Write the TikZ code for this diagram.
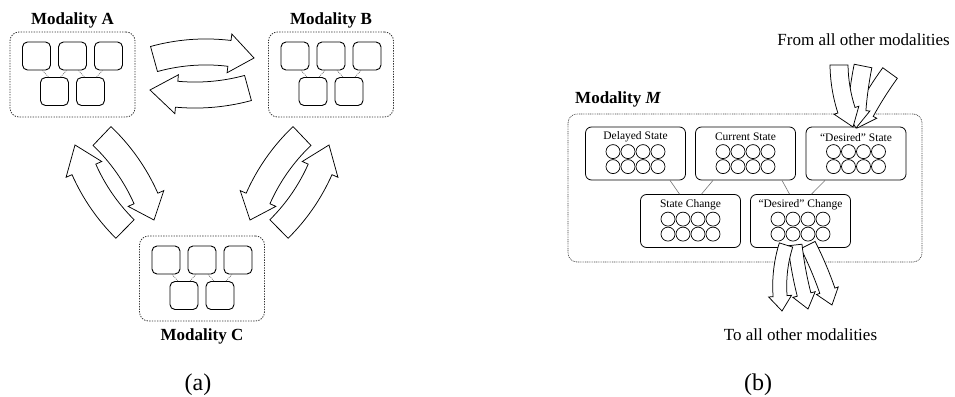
\documentclass[tikz,border=0pt]{standalone}
\usepackage{fontspec}
\setmainfont{Liberation Serif}
\usetikzlibrary{calc}
\tikzset{
  bigarr/.style={draw=black, fill=white, line width=0.75pt, line join=miter},
  modbox/.style={draw=black!80, line width=0.8pt, dash pattern=on 1.3pt off 1.3pt, rounded corners=9pt, minimum width=125pt, minimum height=85pt, inner sep=0pt},
  sq/.style={draw=black, line width=0.9pt, rounded corners=5pt, minimum size=28pt, inner sep=0pt},
  sqlink/.style={draw=black!60, line width=0.6pt, dash pattern=on 1pt off 1pt},
  mbox/.style={draw=black!75, line width=0.7pt, dash pattern=on 0.9pt off 0.9pt, rounded corners=9pt, inner sep=0pt},
  stbox/.style={draw=black, line width=0.8pt, rounded corners=6pt, minimum width=100pt, minimum height=53pt, inner sep=0pt},
  cellc/.style={draw=black, line width=0.7pt},
  stlink/.style={draw=black!55, line width=0.6pt},
  sttitle/.style={font=\fontsize{11.5}{13}\selectfont, inner sep=0pt},
  lbl/.style={font=\fontsize{17}{20}\selectfont, inner sep=0pt},
  lblb/.style={font=\fontsize{17}{20}\selectfont\bfseries, inner sep=0pt},
  capt/.style={font=\fontsize{24}{28}\selectfont, inner sep=0pt}
}
% curved block arrow: tail (#1,#2), tip (#3,#4), half turn angle #5 (signed), half width #6, head half width #7, head length #8
\newcommand{\carrow}[8]{%
  \pgfmathsetmacro{\arDx}{(#3)-(#1)}%
  \pgfmathsetmacro{\arDy}{(#4)-(#2)}%
  \pgfmathsetmacro{\arL}{veclen(\arDx,\arDy)}%
  \pgfmathsetmacro{\arS}{2*sin(#5)}%
  \pgfmathsetmacro{\arR}{(\arL)/(\arS)}%
  \pgfmathsetmacro{\arRa}{abs(\arR)}%
  \pgfmathsetmacro{\arK}{(\arR)*cos(#5)/(\arL)}%
  \pgfmathsetmacro{\arCx}{((#1)+(#3))/2 - (\arDy)*(\arK)}%
  \pgfmathsetmacro{\arCy}{((#2)+(#4))/2 + (\arDx)*(\arK)}%
  \pgfmathsetmacro{\arT}{atan2((#2)-(\arCy),(#1)-(\arCx))}%
  \pgfmathsetmacro{\arP}{(\arT)+2*(#5)}%
  \pgfmathsetmacro{\arHd}{((#8)/(\arR))*57.29578}%
  \pgfmathsetmacro{\arB}{(\arP)-(\arHd)}%
  \pgfmathsetmacro{\arO}{(\arRa)+(#6)}%
  \pgfmathsetmacro{\arI}{(\arRa)-(#6)}%
  \pgfmathsetmacro{\arHO}{(\arRa)+(#7)}%
  \pgfmathsetmacro{\arHI}{(\arRa)-(#7)}%
  \draw[bigarr, shift={(\arCx,\arCy)}] (\arT:\arO) arc[start angle=\arT, end angle=\arB, radius=\arO]
    -- (\arB:\arHO) -- (\arP:\arRa) -- (\arB:\arHI) -- (\arB:\arI)
    arc[start angle=\arB, end angle=\arT, radius=\arI] -- cycle;
}
% modality unit of panel (a)
\newcommand{\modunit}[3]{%
  \node[modbox] (#1) at (#2,#3) {};
  \node[sq] (#1t1) at ($(#1)+(-36,18.5)$) {};
  \node[sq] (#1t2) at ($(#1)+(0,18.5)$) {};
  \node[sq] (#1t3) at ($(#1)+(36,18.5)$) {};
  \node[sq] (#1b1) at ($(#1)+(-18,-17)$) {};
  \node[sq] (#1b2) at ($(#1)+(18,-17)$) {};
  \draw[sqlink] ([xshift=-6pt]#1b1.north) -- ([xshift=6pt]#1t1.south);
  \draw[sqlink] ([xshift=6pt]#1b1.north) -- ([xshift=-6pt]#1t2.south);
  \draw[sqlink] ([xshift=-6pt]#1b2.north) -- ([xshift=6pt]#1t2.south);
  \draw[sqlink] ([xshift=6pt]#1b2.north) -- ([xshift=-6pt]#1t3.south);
}
% state unit of panel (b)
\newcommand{\stunit}[4]{%
  \node[stbox] (#1) at (#2,#3) {};
  \node[sttitle] (#1title) at ($(#1.north)+(0,-10.5)$) {#4};
  \foreach \cx in {-22.5,-7.5,7.5,22.5}{
    \draw[cellc] ($(#1.north)+(\cx,-25)$) circle[radius=7];
    \draw[cellc] ($(#1.north)+(\cx,-40)$) circle[radius=7];
  }
}
\begin{document}
\begin{tikzpicture}[x=1pt,y=1pt]
\useasboundingbox (0,0) rectangle (955,-396);

% ---------- panel (a) ----------
\modunit{ma}{72.5}{-74.5}
\modunit{mb}{331}{-74.5}
\modunit{mc}{202}{-278.5}
\node[lblb, anchor=base] (la) at (72.5,-25) {Modality A};
\node[lblb, anchor=base] (lb) at (331,-25) {Modality B};
\node[lblb, anchor=base] (lc) at (202,-340.5) {Modality C};

\carrow{154}{-59}{254}{-58}{-14.9}{13}{19.5}{25}
\carrow{248}{-88}{150}{-90}{-14}{13}{19.5}{27}
\carrow{102}{-136}{154}{-220}{-14.65}{13}{19.5}{23}
\carrow{125}{-229}{75}{-145}{-14.55}{13}{19.5}{26}
\carrow{302}{-136}{250}{-220}{14.65}{13}{19.5}{23}
\carrow{279}{-229}{329}{-145}{14.55}{13}{19.5}{26}

\node[capt, anchor=base] (capa) at (198,-390) {(a)};

% ---------- panel (b) ----------
\node[mbox, minimum width=354pt, minimum height=148pt] (mm) at (745,-188) {};
\node[lblb, anchor=base west] (lm) at (575,-103.3) {Modality \textit{M}};

\stunit{ds}{635.5}{-153.5}{Delayed State}
\stunit{cs}{745.5}{-153.5}{Current State}
\stunit{des}{856}{-153.5}{``Desired'' State}
\stunit{sc}{690.5}{-221}{State Change}
\stunit{dc}{800.5}{-221}{``Desired'' Change}

\draw[stlink] ([xshift=-11pt]sc.north) -- ([xshift=34.5pt]ds.south);
\draw[stlink] ([xshift=11pt]sc.north) -- ([xshift=-32.5pt]cs.south);
\draw[stlink] ([xshift=-11pt]dc.north) -- ([xshift=36.5pt]cs.south);
\draw[stlink] ([xshift=11pt]dc.north) -- ([xshift=-31pt]des.south);

% incoming
\carrow{890}{-73}{857}{-128}{5}{9}{13}{18}
\carrow{863}{-66}{856}{-128}{5}{9}{13}{18}
\carrow{839}{-65}{853}{-127}{12}{9}{13}{18}
% outgoing
\carrow{808}{-245}{832}{-305}{-5}{8}{11.5}{15}
\carrow{795}{-245}{808}{-309}{5}{7}{11.5}{15}
\carrow{786}{-245}{782}{-311}{14}{7}{11.5}{15}

\node[lbl, anchor=base east] (from) at (950,-46) {From all other modalities};
\node[lbl, anchor=base] (to) at (800.5,-340.5) {To all other modalities};
\node[capt, anchor=base] (capb) at (758,-390) {(b)};
\end{tikzpicture}
\end{document}
